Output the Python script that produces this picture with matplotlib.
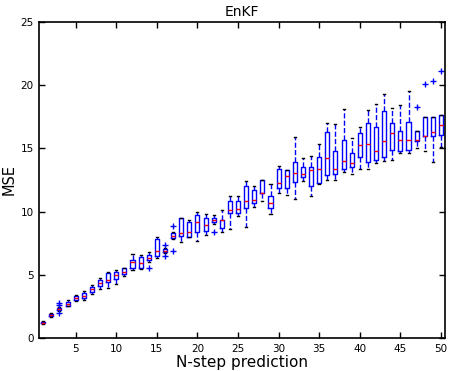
import matplotlib
matplotlib.use("Agg")
import matplotlib.pyplot as plt

# per-step box statistics (N = 1..50)
steps = list(range(1, 51))
q1 = [1.15, 1.72, 2.2, 2.55, 3.0, 3.15, 3.6, 4.1, 4.45, 4.7,
      5.05, 5.55, 5.5, 6.15, 6.45, 6.8, 7.9, 8.05, 8.0, 8.35,
      8.5, 9.15, 8.7, 9.9, 9.9, 10.25, 10.7, 11.5, 10.25, 11.9,
      11.85, 12.3, 12.75, 12.0, 12.25, 12.9, 13.0, 13.35, 13.55, 14.3,
      13.95, 14.1, 14.35, 14.85, 14.75, 14.9, 15.55, 16.0, 16.0, 16.05]
med = [1.22, 1.8, 2.3, 2.7, 3.15, 3.3, 3.85, 4.35, 4.6, 5.0,
       5.25, 6.0, 5.95, 6.35, 6.9, 6.9, 8.05, 8.3, 8.4, 9.15,
       8.95, 9.35, 9.3, 10.1, 10.2, 10.85, 10.9, 11.5, 10.65, 12.25,
       12.8, 13.05, 12.95, 13.3, 13.35, 14.2, 13.4, 14.0, 13.8, 15.25,
       15.35, 14.75, 15.6, 16.25, 15.65, 15.65, 15.65, 16.0, 16.3, 16.85]
q3 = [1.3, 1.88, 2.4, 2.85, 3.3, 3.55, 4.0, 4.55, 5.1, 5.25,
      5.5, 6.2, 6.4, 6.55, 7.85, 7.05, 8.3, 9.45, 9.15, 9.75,
      9.45, 9.45, 9.35, 10.8, 10.8, 12.0, 11.7, 12.5, 11.25, 13.4,
      13.3, 13.9, 13.55, 13.5, 14.35, 16.3, 14.75, 15.65, 14.6, 16.2,
      17.0, 16.65, 17.95, 17.0, 16.4, 17.05, 16.4, 17.45, 17.45, 17.6]
whislo = [1.1, 1.65, 2.12, 2.5, 2.95, 3.0, 3.45, 3.85, 3.95, 4.3,
          4.9, 5.4, 5.45, 6.0, 6.35, 6.75, 7.85, 7.6, 7.95, 7.7,
          8.15, 9.0, 8.4, 8.6, 9.65, 8.8, 10.35, 10.8, 9.8, 11.5,
          11.3, 11.0, 12.45, 11.25, 12.2, 12.5, 12.5, 13.1, 13.0, 13.4,
          13.4, 13.85, 14.0, 14.1, 14.65, 14.6, 15.0, 14.8, 13.95, 15.1]
whishi = [1.35, 1.95, 2.48, 3.0, 3.4, 3.75, 4.2, 4.75, 5.25, 5.4,
          5.55, 6.65, 6.6, 6.8, 7.95, 7.1, 8.35, 9.45, 9.35, 10.0,
          9.8, 9.75, 10.1, 11.2, 11.2, 12.4, 12.0, 12.5, 12.15, 13.6,
          13.3, 15.9, 14.25, 14.4, 15.35, 17.0, 16.9, 18.1, 15.8, 16.7,
          18.0, 18.5, 19.3, 18.2, 18.45, 19.5, 16.4, 17.45, 17.45, 17.6]
outliers = {3: [2.0, 2.62, 2.75], 14: [5.5], 16: [6.45, 7.35],
            17: [6.85, 8.85], 22: [8.35], 47: [18.3], 48: [20.05],
            49: [20.35], 50: [21.1]}

stats = []
for i, n in enumerate(steps):
    stats.append(dict(q1=q1[i], med=med[i], q3=q3[i],
                      whislo=whislo[i], whishi=whishi[i],
                      fliers=outliers.get(n, [])))

fig = plt.figure(figsize=(4.5, 3.71), dpi=100)
ax = fig.add_axes([0.087, 0.089, 0.902, 0.852])

ax.bxp(stats, positions=steps, widths=0.5, showfliers=True,
       boxprops=dict(color='blue', linewidth=1),
       medianprops=dict(color='red', linewidth=1),
       whiskerprops=dict(color='blue', linestyle='--', linewidth=1),
       capprops=dict(color='black', linewidth=1),
       flierprops=dict(marker='+', markeredgecolor='blue', markersize=5,
                       linestyle='none'))

ax.set_xlim(0.5, 50.5)
ax.set_ylim(0, 25)
ax.set_xticks(range(5, 51, 5))
ax.set_xticklabels([str(v) for v in range(5, 51, 5)])
ax.set_yticks(range(0, 26, 5))
ax.tick_params(direction='in', top=True, right=True, labelsize=7.5,
               length=4, width=1, pad=4)
for s in ax.spines.values():
    s.set_linewidth(1.2)

ax.set_title('EnKF', fontsize=10, pad=4)
ax.set_xlabel('N-step prediction', fontsize=11, labelpad=1)
ax.set_ylabel('MSE', fontsize=10.5, labelpad=3)

fig.savefig('out.png', dpi=100)
